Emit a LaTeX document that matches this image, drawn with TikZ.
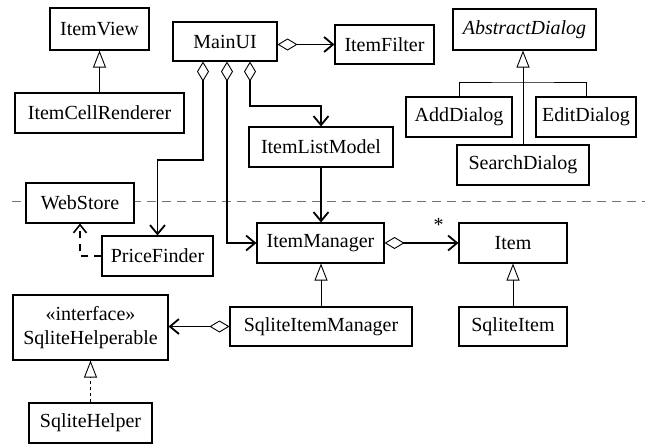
\documentclass[tikz,border=0pt]{standalone}
\usepackage{fontspec}
\setmainfont{Liberation Serif}
\usetikzlibrary{arrows.meta,calc}

\begin{document}
\begin{tikzpicture}[x=1pt, y=-1pt,
  font=\fontsize{20}{24}\selectfont,
  cls/.style={draw, fill=white, line width=1.1pt, inner sep=0pt, align=center},
  inherit/.style={line width=0.9pt,
    -{Triangle[open, length=17pt, width=13pt, line width=0.9pt]}},
  realize/.style={inherit, dash pattern=on 3.5pt off 2.5pt},
  assoc/.style={line width=1.8pt,
    {Diamond[open, length=20pt, width=12pt, line width=0.9pt]}-{Straight Barb[length=9pt, width=15pt]}},
  navig/.style={line width=1.8pt, -{Straight Barb[length=9pt, width=15pt]}},
  depend/.style={line width=1.6pt, dash pattern=on 7pt off 6pt,
    -{Straight Barb[length=8pt, width=13pt]}},
  separator/.style={draw=black!55, line width=1pt, dash pattern=on 9pt off 6pt}]

% page
\fill[white] (0,0) rectangle (645,445);
\useasboundingbox (0,0) rectangle (645,445);

% package boundary
\coordinate (sepL) at (12,201);
\coordinate (sepR) at (645,201);
\draw[separator] (sepL) -- (sepR);

% classes
\node[cls, minimum width=99pt,  minimum height=42pt] (ItemView)          at (99.5,29)   {ItemView};
\node[cls, minimum width=169pt, minimum height=40pt] (ItemCellRenderer)  at (99.5,113)  {ItemCellRenderer};
\node[cls, minimum width=104pt, minimum height=39pt] (MainUI)            at (225,41.5)  {MainUI};
\node[cls, minimum width=99pt,  minimum height=39pt] (ItemFilter)        at (384.5,44.5){ItemFilter};
\node[cls, minimum width=143pt, minimum height=41pt] (AbstractDialog)    at (524.5,29.5){\itshape AbstractDialog};
\node[cls, minimum width=106pt, minimum height=40pt] (AddDialog)         at (459,117)   {AddDialog};
\node[cls, minimum width=100pt, minimum height=40pt] (EditDialog)        at (586,117)   {EditDialog};
\node[cls, minimum width=132pt, minimum height=40pt] (SearchDialog)      at (523,165)   {SearchDialog};
\node[cls, minimum width=144pt, minimum height=40pt] (ItemListModel)     at (321,147)   {ItemListModel};
\node[cls, minimum width=108pt, minimum height=40pt] (WebStore)          at (80,203)    {WebStore};
\node[cls, minimum width=111pt, minimum height=40pt] (PriceFinder)       at (157.5,256) {PriceFinder};
\node[cls, minimum width=127pt, minimum height=40pt] (ItemManager)       at (320.5,243) {ItemManager};
\node[cls, minimum width=108pt, minimum height=40pt] (Item)              at (513,243)   {Item};
\node[cls, minimum width=155pt, minimum height=65pt] (SqliteHelperable)  at (90.5,327.5){«interface»\\SqliteHelperable};
\node[cls, minimum width=182pt, minimum height=39pt] (SqliteItemManager) at (321,326.5) {SqliteItemManager};
\node[cls, minimum width=108pt, minimum height=39pt] (SqliteItem)        at (513,326.5) {SqliteItem};
\node[cls, minimum width=123pt, minimum height=40pt] (SqliteHelper)      at (90.5,423)  {SqliteHelper};

% generalisation
\draw[inherit] (ItemCellRenderer.north) -- (ItemView.south);
\draw[inherit] (SearchDialog.north) -- (SearchDialog.north |- AbstractDialog.south);
\coordinate (dlgbar) at (523,82);
\draw[line width=0.9pt] (AddDialog.north) |- (dlgbar) -| (EditDialog.north);
\draw[inherit] (SqliteItemManager.north) -- (SqliteItemManager.north |- ItemManager.south);
\draw[inherit] (SqliteItem.north) -- (Item.south);
\draw[realize] (SqliteHelper.north) -- (SqliteHelperable.south);

% aggregations from MainUI
\draw[assoc] (MainUI.east |- ItemFilter.west) -- (ItemFilter.west);
\coordinate (pfbend) at (157.5,160);
\draw[assoc] ([xshift=-22pt]MainUI.south) |- (pfbend) -- (PriceFinder.north);
\draw[assoc] ([xshift=2pt]MainUI.south) |- (ItemManager.west);
\coordinate (ilbend) at (321,106);
\draw[assoc] ([xshift=25pt]MainUI.south) |- (ilbend) -- (ItemListModel.north);

% model and manager
\draw[navig] (ItemListModel.south) -- (ItemListModel.south |- ItemManager.north);
\draw[assoc] (ItemManager.east) -- (Item.west)
  node[pos=0.73, above=11pt, inner sep=0pt] {*};
\draw[assoc] (SqliteItemManager.west) -- (SqliteItemManager.west -| SqliteHelperable.east);

% dependency
\draw[depend] (PriceFinder.west) -| (WebStore.south);

\end{tikzpicture}
\end{document}
